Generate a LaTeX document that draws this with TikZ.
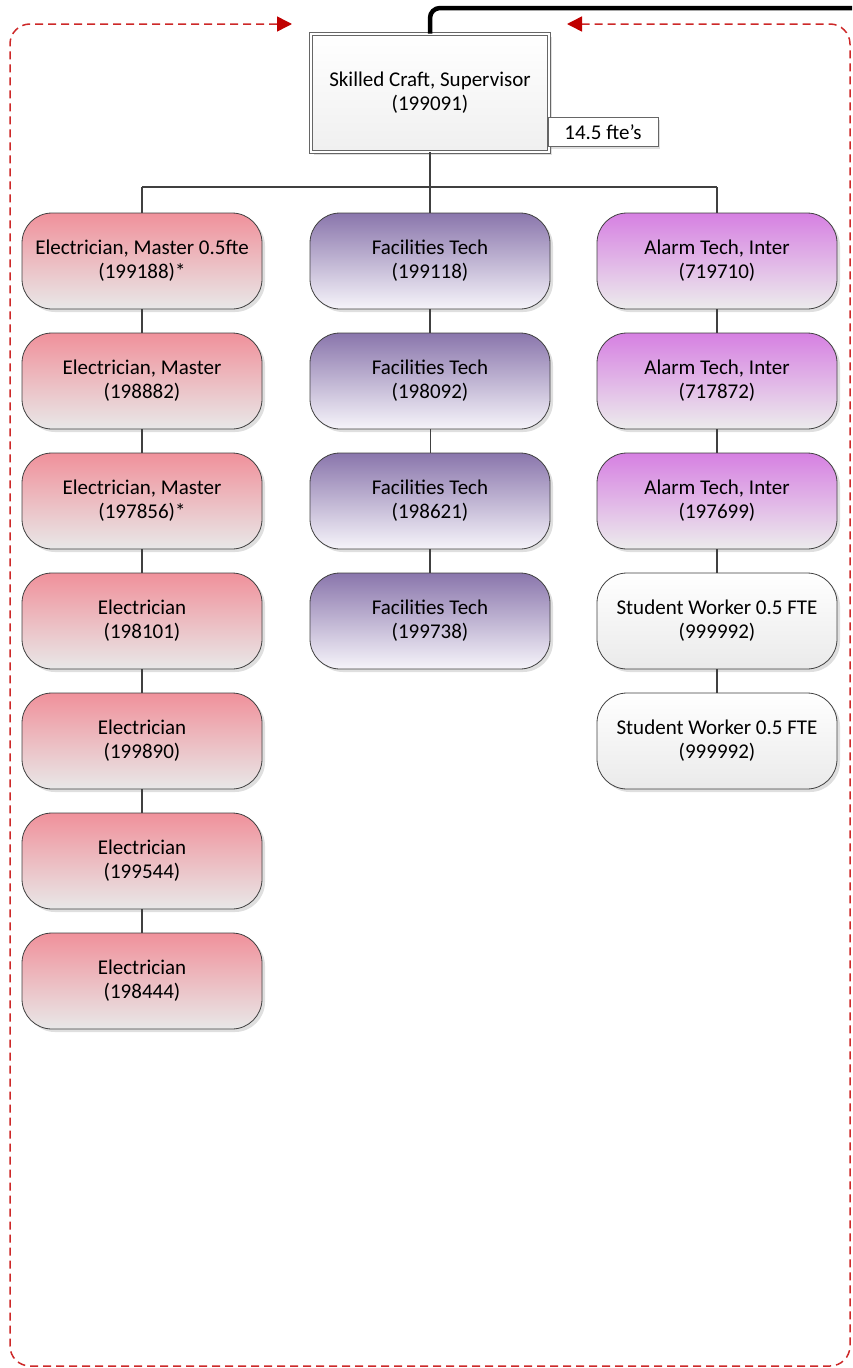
\documentclass[tikz,border=0pt]{standalone}
\usepackage{fontspec}
\setmainfont{Carlito}
\usetikzlibrary{arrows.meta,shadows}
\definecolor{framered}{RGB}{205,40,40}
\definecolor{tipred}{RGB}{192,0,0}
\definecolor{linkgray}{RGB}{64,64,64}
\definecolor{elecTop}{RGB}{240,145,155}
\definecolor{elecBot}{RGB}{232,232,232}
\definecolor{techTop}{RGB}{138,118,172}
\definecolor{techBot}{RGB}{246,244,250}
\definecolor{alarmTop}{RGB}{214,128,226}
\definecolor{alarmBot}{RGB}{236,236,236}
\definecolor{studTop}{RGB}{255,255,255}
\definecolor{studBot}{RGB}{234,234,234}
\tikzset{
  x=1pt, y=-1pt,
  txt/.style={font=\fontsize{21}{24}\selectfont, align=center, text=black},
  post/.style={txt, draw=linkgray, line width=0.8pt, rounded corners=30pt,
    minimum width=240pt, minimum height=96pt, inner sep=0pt,
    drop shadow={shadow xshift=3pt, shadow yshift=-3pt, opacity=0.25, fill=gray}},
  elec/.style={post, top color=elecTop, bottom color=elecBot},
  tech/.style={post, top color=techTop, bottom color=techBot},
  alarm/.style={post, top color=alarmTop, bottom color=alarmBot},
  stud/.style={post, top color=studTop, bottom color=studBot},
  head/.style={txt, draw=gray!80!black, line width=0.6pt, double=white, double distance=2.5pt,
    minimum width=238pt, minimum height=118pt, inner sep=0pt,
    top color=white, bottom color=gray!12,
    drop shadow={shadow xshift=3pt, shadow yshift=-3pt, opacity=0.25, fill=gray}},
  tag/.style={txt, draw=gray!80!black, line width=0.6pt, fill=white,
    minimum width=110pt, minimum height=29pt, inner sep=0pt,
    drop shadow={shadow xshift=2pt, shadow yshift=-2pt, opacity=0.25, fill=gray}},
  link/.style={draw=linkgray, line width=1.5pt},
  loop/.style={draw=framered, line width=1.5pt, dash pattern=on 8pt off 5pt,
    rounded corners=20pt,
    {Triangle[length=15pt,width=15pt,color=tipred]}-{Triangle[length=15pt,width=15pt,color=tipred]}},
}
\begin{document}
\begin{tikzpicture}
\useasboundingbox (0,0) rectangle (852,1368);

% surrounding dashed loop
\coordinate (loopA) at (567,24);
\coordinate (loopB) at (292,24);
\draw[loop] (loopA) -- (850,24) -- (850,1366) -- (10,1366) -- (10,24) -- (loopB);

% head of unit
\node[head] (S) at (430,93) {Skilled Craft, Supervisor\\(199091)};
\node[tag] (fte) at (603,132) {14.5 fte’s};

% feed line leaving the top
\coordinate (feed) at (852,8);
\draw[line width=4.5pt, rounded corners=10pt] (S.north) |- (feed);

% left column
\node[elec] (L1) at (142,261) {Electrician, Master 0.5fte\\(199188)*};
\node[elec] (L2) at (142,381) {Electrician, Master\\(198882)};
\node[elec] (L3) at (142,501) {Electrician, Master\\(197856)*};
\node[elec] (L4) at (142,621) {Electrician\\(198101)};
\node[elec] (L5) at (142,741) {Electrician\\(199890)};
\node[elec] (L6) at (142,861) {Electrician\\(199544)};
\node[elec] (L7) at (142,981) {Electrician\\(198444)};

% middle column
\node[tech] (M1) at (430,261) {Facilities Tech\\(199118)};
\node[tech] (M2) at (430,381) {Facilities Tech\\(198092)};
\node[tech] (M3) at (430,501) {Facilities Tech\\(198621)};
\node[tech] (M4) at (430,621) {Facilities Tech\\(199738)};

% right column
\node[alarm] (R1) at (717,261) {Alarm Tech, Inter\\(719710)};
\node[alarm] (R2) at (717,381) {Alarm Tech, Inter\\(717872)};
\node[alarm] (R3) at (717,501) {Alarm Tech, Inter\\(197699)};
\node[stud] (R4) at (717,621) {Student Worker 0.5 FTE\\(999992)};
\node[stud] (R5) at (717,741) {Student Worker 0.5 FTE\\(999992)};

% reporting lines
\coordinate (busL) at (142,187);
\coordinate (busR) at (717,187);
\draw[link] (busL) -- (busR);
\draw[link] (S.south) -- (S.south |- busL);
\draw[link] (L1.north) -- (L1.north |- busL);
\draw[link] (M1.north) -- (M1.north |- busL);
\draw[link] (R1.north) -- (R1.north |- busL);
\draw[link] (L1) -- (L2); \draw[link] (L2) -- (L3); \draw[link] (L3) -- (L4);
\draw[link] (L4) -- (L5); \draw[link] (L5) -- (L6); \draw[link] (L6) -- (L7);
\draw[link] (M1) -- (M2); \draw[draw=linkgray, line width=0.6pt] (M2) -- (M3); \draw[link] (M3) -- (M4);
\draw[link] (R1) -- (R2); \draw[link] (R2) -- (R3); \draw[link] (R3) -- (R4); \draw[link] (R4) -- (R5);
\end{tikzpicture}
\end{document}
